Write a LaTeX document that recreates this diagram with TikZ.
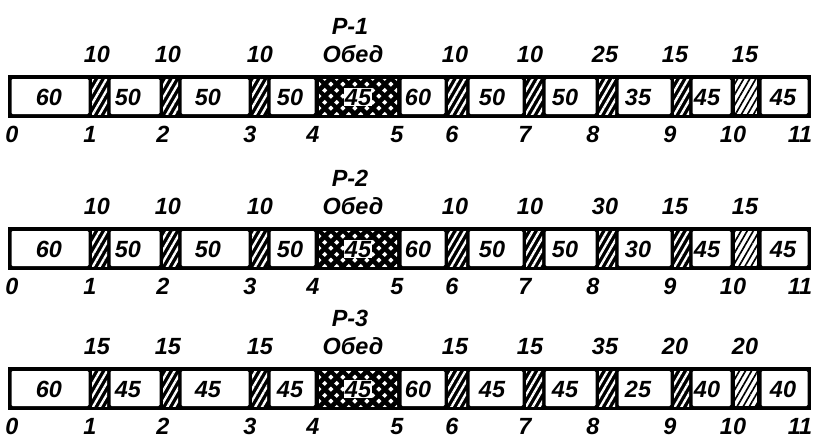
\documentclass[tikz,border=0pt]{standalone}
\usepackage{fontspec}
\setmainfont{Liberation Sans}
\usetikzlibrary{patterns,patterns.meta}

% white diamonds for the lunch break
\pgfdeclarepatternformonly{lunchgrid}{\pgfqpoint{0pt}{0pt}}{\pgfqpoint{10pt}{10pt}}{\pgfqpoint{10pt}{10pt}}{%
  \pgfpathmoveto{\pgfqpoint{2.5pt}{0.3pt}}\pgfpathlineto{\pgfqpoint{4.7pt}{2.5pt}}%
  \pgfpathlineto{\pgfqpoint{2.5pt}{4.7pt}}\pgfpathlineto{\pgfqpoint{0.3pt}{2.5pt}}\pgfpathclose
  \pgfpathmoveto{\pgfqpoint{7.5pt}{5.3pt}}\pgfpathlineto{\pgfqpoint{9.7pt}{7.5pt}}%
  \pgfpathlineto{\pgfqpoint{7.5pt}{9.7pt}}\pgfpathlineto{\pgfqpoint{5.3pt}{7.5pt}}\pgfpathclose
  \pgfusepath{fill}}

\begin{document}
\begin{tikzpicture}[
  x=0.03cm, y=-0.03cm,
  lbl/.style={font=\fontsize{20}{20}\selectfont\bfseries\itshape, inner sep=0pt, anchor=base},
  workcell/.style={fill=white, rounded corners=1pt},
  breakcell/.style={pattern={Lines[angle=60, distance=5pt, line width=2pt]}, pattern color=white},
  lightcell/.style={pattern={Lines[angle=60, distance=4.5pt, line width=1.4pt]}, pattern color=black},
  lunchcell/.style={pattern=lunchgrid, pattern color=white},
]
\useasboundingbox (0,0) rectangle (814,439);

% One bar per shift
\foreach \r/\yt/\tops/\cells in {
  1/75/{10,10,10,Обед,10,10,25,15,15}/{60,50,50,50,60,50,50,35,45,45},
  2/227/{10,10,10,Обед,10,10,30,15,15}/{60,50,50,50,60,50,50,30,45,45},
  3/367/{15,15,15,Обед,15,15,35,20,20}/{60,45,45,45,60,45,45,25,40,40}} {
  % frame
  \fill[black] (8,\yt) rectangle (811,\yt+43);
  % work periods
  \foreach \xa/\xb in {8/92,107/163,178/252,267/318,398/448,466/526,542/599,615/674,689/734,758/811}
    \fill[workcell] (\xa+3.5,\yt+4) rectangle (\xb-3.5,\yt+39);
  % short breaks
  \foreach \xa/\xb in {92/107,163/178,252/267,448/466,526/542,599/615,674/689}
    \path[breakcell] (\xa,\yt+4) rectangle (\xb,\yt+39);
  \fill[white] (735,\yt+4) rectangle (757,\yt+39);
  \path[lightcell] (735,\yt+4) rectangle (757,\yt+39);
  % lunch
  \path[lunchcell] (319,\yt+4) rectangle (397,\yt+39);
  \node[lbl, fill=white, inner sep=1pt] (r\r-lunch) at (358,\yt+30) {45};

  % shift name
  \node[lbl] (r\r-title) at (350,\yt-41) {Р-\r};
  % durations of work periods
  \foreach \v [count=\i] in \cells {
    \pgfmathsetmacro{\xx}{{49,128,208,290,418,492,565,638,707,783}[\i-1]}
    \node[lbl] (r\r-w\i) at (\xx,\yt+30) {\v};
  }
  % durations of breaks
  \foreach \v [count=\i] in \tops {
    \pgfmathsetmacro{\xx}{{97,168,260,353,455,530,605,675,745}[\i-1]}
    \node[lbl] (r\r-b\i) at (\xx,\yt-13) {\v};
  }
  % hour marks
  \foreach \h [count=\i] in {12,90,163,250,313,397,452,525,593,670,733,800} {
    \pgfmathtruncatemacro{\hh}{\i-1}
    \node[lbl] (r\r-h\hh) at (\h,\yt+67) {\hh};
  }
}
\end{tikzpicture}
\end{document}
